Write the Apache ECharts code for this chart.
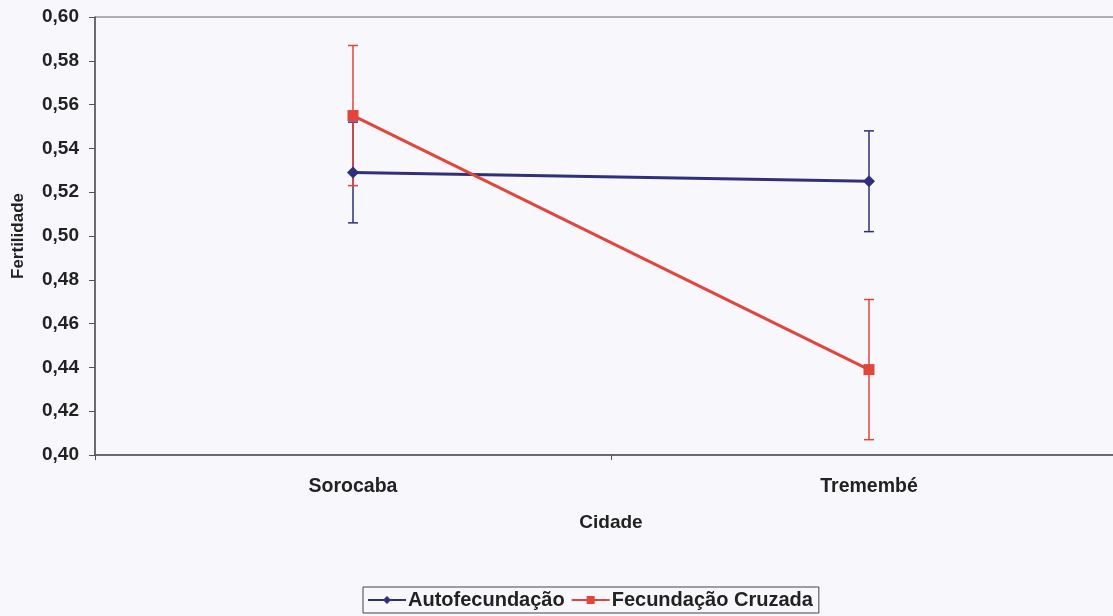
<!DOCTYPE html>
<html>
<head>
<meta charset="utf-8">
<script src="https://cdn.jsdelivr.net/npm/echarts@6/dist/echarts.min.js"></script>
<style>
  html, body { margin: 0; padding: 0; background: #f8f8fc; overflow: hidden; }
  /* plot area runs slightly past the right edge of the window */
  #chart { width: 1127px; height: 616px; }
</style>
</head>
<body>
<div id="chart"></div>
<script>
// Fertility by city for the two crossing treatments (mean ± error)
const cities = ['Sorocaba', 'Tremembé'];
const autoMean = [0.529, 0.525];
const autoErr = [0.023, 0.023];
const crossMean = [0.555, 0.439];
const crossErr = [0.032, 0.032];
const yTicks = [0.40, 0.42, 0.44, 0.46, 0.48, 0.50, 0.52, 0.54, 0.56, 0.58, 0.60];

const BLUE = '#2f2f7c';
const RED = '#e2453c';
const FONT = '"Liberation Sans", Arial, sans-serif';

// Vertical error bar with small horizontal caps
function errorBars(means, errs, color) {
  const data = means.map((m, i) => [i, m - errs[i], m + errs[i]]);
  return {
    type: 'custom',
    silent: true,
    z: 3,
    data: data,
    encode: { x: 0, y: [1, 2] },
    renderItem: function (params, api) {
      const lo = api.coord([api.value(0), api.value(1)]);
      const hi = api.coord([api.value(0), api.value(2)]);
      const w = 5;
      const style = { stroke: color, lineWidth: 1.5 };
      return {
        type: 'group',
        children: [
          { type: 'line', shape: { x1: hi[0], y1: hi[1], x2: lo[0], y2: lo[1] }, style: style },
          { type: 'line', shape: { x1: hi[0] - w, y1: hi[1], x2: hi[0] + w, y2: hi[1] }, style: style },
          { type: 'line', shape: { x1: lo[0] - w, y1: lo[1], x2: lo[0] + w, y2: lo[1] }, style: style }
        ]
      };
    }
  };
}

const chart = echarts.init(document.getElementById('chart'));
chart.setOption({
  backgroundColor: '#f8f8fc',
  animation: false,
  textStyle: { fontFamily: FONT },
  grid: {
    left: 95, top: 17, width: 1032, height: 438,
    containLabel: false, outerBoundsMode: 'none',
    show: true, borderColor: '#666', borderWidth: 1, backgroundColor: 'transparent'
  },
  legend: {
    data: ['Autofecundação', 'Fecundação Cruzada'],
    left: 363,
    top: 587,
    padding: [3, 6, 3, 4],
    itemGap: 6,
    itemWidth: 38,
    itemHeight: 10,
    borderColor: '#444',
    borderWidth: 1,
    textStyle: { fontFamily: FONT, fontSize: 20, fontWeight: 'bold', color: '#222', padding: [0, 0, 0, -3] }
  },
  xAxis: {
    type: 'category',
    data: cities,
    boundaryGap: true,
    name: 'Cidade',
    nameLocation: 'middle',
    nameGap: 58,
    nameTextStyle: { fontFamily: FONT, fontSize: 19, fontWeight: 'bold', color: '#222' },
    axisLine: { lineStyle: { color: '#555', width: 1.5 } },
    axisTick: { show: true, length: 5, lineStyle: { color: '#555' } },
    axisLabel: { margin: 22, fontFamily: FONT, fontSize: 19.5, fontWeight: 'bold', color: '#222' },
    splitLine: { show: false }
  },
  yAxis: {
    type: 'value',
    min: yTicks[0],
    max: yTicks[yTicks.length - 1],
    interval: 0.02,
    name: 'Fertilidade',
    nameLocation: 'middle',
    nameGap: 68,
    nameTextStyle: { fontFamily: FONT, fontSize: 17, fontWeight: 'bold', color: '#222' },
    axisLine: { show: true, lineStyle: { color: '#555', width: 1.5 } },
    axisTick: { show: true, length: 6, lineStyle: { color: '#555' } },
    axisLabel: {
      margin: 16,
      fontFamily: FONT, fontSize: 19, fontWeight: 'bold', color: '#222',
      formatter: v => v.toFixed(2).replace('.', ',')
    },
    splitLine: { show: false }
  },
  series: [
    errorBars(autoMean, autoErr, BLUE),
    errorBars(crossMean, crossErr, RED),
    {
      name: 'Autofecundação',
      type: 'line',
      data: autoMean,
      symbol: 'diamond',
      symbolSize: 12,
      lineStyle: { color: BLUE, width: 3 },
      itemStyle: { color: BLUE },
      z: 4
    },
    {
      name: 'Fecundação Cruzada',
      type: 'line',
      data: crossMean,
      symbol: 'rect',
      symbolSize: 11,
      lineStyle: { color: RED, width: 3 },
      itemStyle: { color: RED },
      z: 5
    }
  ]
});
</script>
</body>
</html>
